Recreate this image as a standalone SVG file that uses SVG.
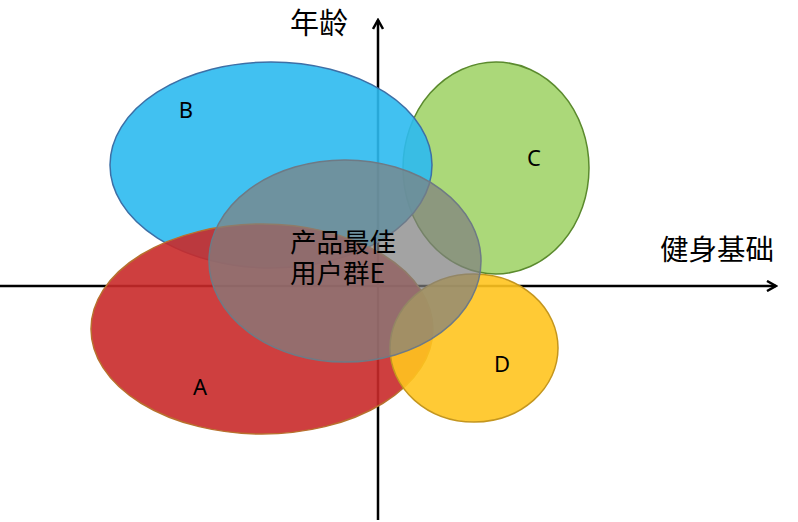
<svg xmlns="http://www.w3.org/2000/svg" width="798" height="522" viewBox="0 0 798 522">
<style>
.ax{stroke:#000;stroke-width:2.5;fill:none}
.lbl{font-family:"Noto Sans","Noto Sans CJK SC",sans-serif;font-size:22px;fill:#000;text-anchor:middle}
.cn{font-family:"Noto Sans CJK SC",sans-serif;fill:#000}
</style>
<defs>
<marker id="arr" viewBox="0 0 12 12" refX="10" refY="6" markerWidth="12" markerHeight="12" markerUnits="userSpaceOnUse" orient="auto">
<path d="M1,1 L10,6 L1,11" fill="none" stroke="#000" stroke-width="2.5"/>
</marker>
</defs>
<g id="connectors">
<line class="ax" x1="378" y1="520" x2="378" y2="20" marker-end="url(#arr)"/>
<line class="ax" x1="0" y1="286" x2="776" y2="286" marker-end="url(#arr)"/>
</g>
<g id="C"><ellipse cx="496" cy="168" rx="93" ry="106" fill="#a6d672" fill-opacity="0.95" stroke="#5b8a2e" stroke-width="1.5"/><text class="lbl" x="534" y="166">C</text></g>
<g id="B"><ellipse cx="271" cy="165" rx="161" ry="103" fill="#2cbaf0" fill-opacity="0.9" stroke="#3d6fa6" stroke-width="1.5"/><text class="lbl" x="186" y="118">B</text></g>
<g id="A"><ellipse cx="262" cy="329" rx="171" ry="105" fill="#c92a2a" fill-opacity="0.9" stroke="#b8702e" stroke-width="1.5"/><text class="lbl" x="200" y="395">A</text></g>
<g id="D"><ellipse cx="474" cy="348" rx="84" ry="74" fill="#ffc41f" fill-opacity="0.9" stroke="#c4961e" stroke-width="1.5"/><text class="lbl" x="502" y="372">D</text></g>
<g id="E"><ellipse cx="345" cy="261" rx="136" ry="101" fill="#808080" fill-opacity="0.72" stroke="#6e7a85" stroke-width="1.5"/>
<text class="cn" font-size="26.5" x="290" y="252">产品最佳</text>
<text class="cn" font-size="26.5" x="290" y="283">用户群E</text></g>
<g id="labels">
<text class="cn" font-size="29" x="290" y="34">年龄</text>
<text class="cn" font-size="28.5" x="660" y="260">健身基础</text>
</g>
</svg>
